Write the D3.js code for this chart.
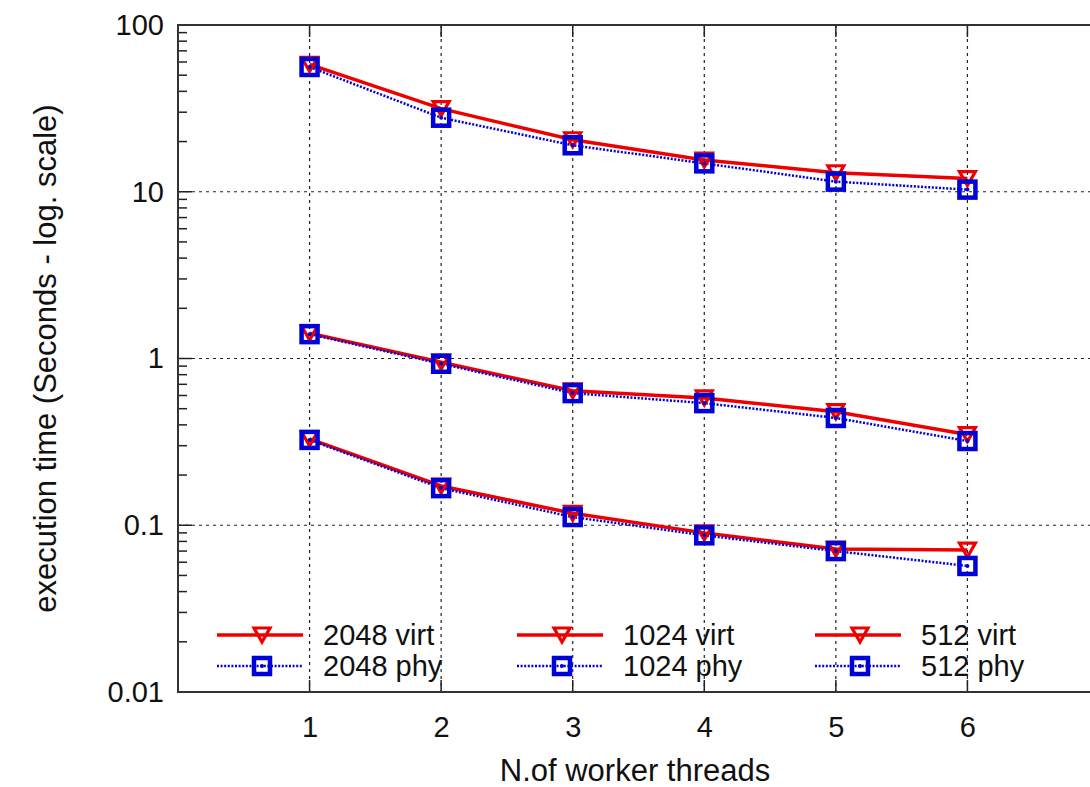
<!DOCTYPE html>
<html>
<head>
<meta charset="utf-8">
<script src="https://cdn.jsdelivr.net/npm/d3@7"></script>
<style>
  body { margin: 0; background: #fff; }
  text { font-family: "Liberation Sans", Arial, sans-serif; fill: #111; }
</style>
</head>
<body>
<div id="chart"></div>
<script>
// data
const threads = [1, 2, 3, 4, 5, 6];
const virt2048 = [58, 31.5, 20.5, 15.5, 13, 12];
const phy2048 = [56, 27.8, 19, 14.8, 11.5, 10.3];
const virt1024 = [1.42, 0.95, 0.64, 0.58, 0.48, 0.35];
const phy1024 = [1.4, 0.93, 0.62, 0.54, 0.44, 0.32];
const virt512 = [0.33, 0.172, 0.118, 0.09, 0.072, 0.071];
const phy512 = [0.325, 0.167, 0.112, 0.087, 0.07, 0.057];
const yTicks = [0.01, 0.1, 1, 10, 100];
const xTicks = [1, 2, 3, 4, 5, 6];

const series = [
  { name: "2048 virt", type: "virt", values: virt2048 },
  { name: "2048 phy", type: "phy", values: phy2048 },
  { name: "1024 virt", type: "virt", values: virt1024 },
  { name: "1024 phy", type: "phy", values: phy1024 },
  { name: "512 virt", type: "virt", values: virt512 },
  { name: "512 phy", type: "phy", values: phy512 },
];

const W = 1090, H = 787;
const margin = { top: 25, left: 178, bottom: 95 };
const width = 921; // right border falls just outside the picture
const height = H - margin.top - margin.bottom;

const red = "#ee0000";
const blue = "#0000d8";
const tickFont = 29, legFont = 29, titleFont = 31;

const svg = d3.select("#chart").append("svg")
  .attr("width", W).attr("height", H);
const g = svg.append("g").attr("transform", `translate(${margin.left},${margin.top})`);

const x = d3.scaleLinear().domain([0, 7]).range([0, width]);
const y = d3.scaleLog().domain([0.01, 100]).range([height, 0]);

// grid
const gridDash = "3,4";
g.append("g").selectAll("line").data(xTicks).join("line")
  .attr("x1", d => x(d)).attr("x2", d => x(d))
  .attr("y1", 0).attr("y2", height)
  .attr("stroke", "#222").attr("stroke-width", 1.2).attr("stroke-dasharray", gridDash);
g.append("g").selectAll("line").data(yTicks.slice(1, -1)).join("line")
  .attr("x1", 0).attr("x2", width)
  .attr("y1", d => y(d)).attr("y2", d => y(d))
  .attr("stroke", "#222").attr("stroke-width", 1.2).attr("stroke-dasharray", gridDash);

// axes
const left = g.append("g")
  .call(d3.axisLeft(y).tickValues(yTicks).tickFormat(d3.format("~g")).tickSize(0).tickPadding(14));
left.select(".domain").remove();
left.selectAll("text").attr("font-size", tickFont).style("font-family", "Liberation Sans, Arial, sans-serif").attr("fill", "#111");

const bottom = g.append("g").attr("transform", `translate(0,${height})`)
  .call(d3.axisBottom(x).tickValues(xTicks).tickFormat(d3.format("d")).tickSize(0).tickPadding(24));
bottom.select(".domain").remove();
bottom.selectAll("text").attr("font-size", tickFont).style("font-family", "Liberation Sans, Arial, sans-serif").attr("fill", "#111");

// inward ticks (gnuplot style)
const minor = [];
for (let e = -2; e < 2; e++) for (let m = 2; m <= 9; m++) minor.push(m * Math.pow(10, e));
const tk = g.append("g").attr("stroke", "#222").attr("stroke-width", 1.5);
tk.selectAll(".ymin").data(minor).join("line").attr("class", "ymin")
  .attr("x1", 0).attr("x2", 9).attr("y1", d => y(d)).attr("y2", d => y(d));
tk.selectAll(".ymaj").data(yTicks).join("line").attr("class", "ymaj")
  .attr("x1", 0).attr("x2", 14).attr("y1", d => y(d)).attr("y2", d => y(d));
tk.selectAll(".xb").data(xTicks).join("line").attr("class", "xb")
  .attr("x1", d => x(d)).attr("x2", d => x(d)).attr("y1", height).attr("y2", height - 12);
tk.selectAll(".xt").data(xTicks).join("line").attr("class", "xt")
  .attr("x1", d => x(d)).attr("x2", d => x(d)).attr("y1", 0).attr("y2", 12);

// frame
g.append("rect").attr("x", 0).attr("y", 0).attr("width", width).attr("height", height)
  .attr("fill", "none").attr("stroke", "#333").attr("stroke-width", 2);

// markers
const tri = (sel) => sel.append("path")
  .attr("d", "M-8,-7 L8,-7 L0,7 Z")
  .attr("fill", "none").attr("stroke", red).attr("stroke-width", 3.2);
const sq = (sel) => {
  sel.append("rect").attr("x", -8).attr("y", -8).attr("width", 16).attr("height", 16)
    .attr("fill", "none").attr("stroke", blue).attr("stroke-width", 4.5);
  sel.append("circle").attr("r", 2).attr("fill", blue);
};

const line = d3.line().x((d, i) => x(threads[i])).y(d => y(d));

// lines: virt first, phy drawn over
const order = [...series.filter(s => s.type === "virt"), ...series.filter(s => s.type === "phy")];
order.forEach(s => {
  g.append("path").datum(s.values).attr("d", line).attr("fill", "none")
    .attr("stroke", s.type === "virt" ? red : blue)
    .attr("stroke-width", s.type === "virt" ? 3.5 : 2.5)
    .attr("stroke-dasharray", s.type === "virt" ? null : "2,1.6");
});
order.forEach(s => {
  g.append("g").selectAll("g").data(s.values).join("g")
    .attr("transform", (d, i) => `translate(${x(threads[i])},${y(d)})`)
    .each(function () { s.type === "virt" ? tri(d3.select(this)) : sq(d3.select(this)); });
});

// legend
const legCols = [39, 339, 637];
const legRows = [height - 57, height - 26];
series.forEach((s, i) => {
  const col = Math.floor(i / 2), row = i % 2;
  const lg = g.append("g").attr("transform", `translate(${legCols[col]},${legRows[row]})`);
  lg.append("line").attr("x1", 0).attr("x2", 86).attr("y1", 0).attr("y2", 0)
    .attr("stroke", s.type === "virt" ? red : blue)
    .attr("stroke-width", s.type === "virt" ? 3.5 : 2.5)
    .attr("stroke-dasharray", s.type === "virt" ? null : "2,1.6");
  const m = lg.append("g").attr("transform", "translate(45,0)");
  s.type === "virt" ? tri(m) : sq(m);
  lg.append("text").attr("x", 106).attr("y", 0).attr("dy", "0.36em")
    .attr("font-size", legFont).text(s.name);
});

// axis titles
svg.append("text")
  .attr("transform", `translate(45,${margin.top + height / 2}) rotate(-90)`)
  .attr("text-anchor", "middle").attr("dy", "0.36em").attr("font-size", titleFont)
  .text("execution time (Seconds - log. scale)");
svg.append("text")
  .attr("x", 635).attr("y", 770).attr("text-anchor", "middle").attr("dy", "0.36em")
  .attr("font-size", titleFont).text("N.of worker threads");
</script>
</body>
</html>
